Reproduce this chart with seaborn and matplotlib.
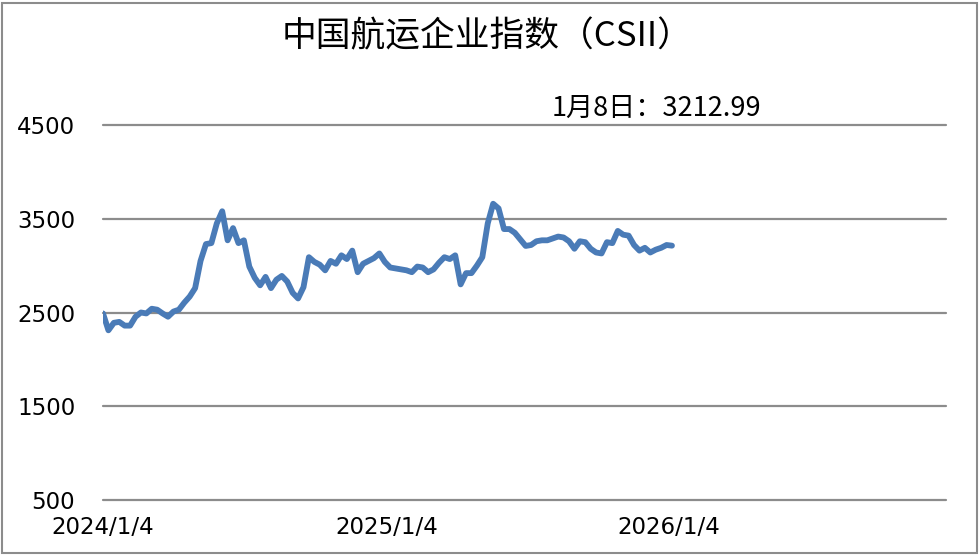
import pandas as pd
import numpy as np
import matplotlib
matplotlib.use("Agg")
import matplotlib.pyplot as plt
from matplotlib.patches import Rectangle
import seaborn as sns

# ---- data ----
start_date = "2024-01-04"
csii_values = [
    2490, 2310, 2390, 2400, 2360, 2360, 2455, 2500, 2490, 2540,
    2530, 2490, 2455, 2510, 2530, 2605, 2670, 2760, 3050, 3230,
    3240, 3450, 3580, 3270, 3400, 3240, 3270, 2990, 2870, 2790,
    2880, 2760, 2850, 2890, 2830, 2710, 2650, 2770, 3090, 3040,
    3010, 2950, 3050, 3020, 3110, 3070, 3160, 2930, 3020, 3050,
    3080, 3130, 3040, 2980, 2970, 2960, 2950, 2930, 2990, 2980,
    2930, 2960, 3030, 3090, 3070, 3110, 2800, 2920, 2920, 3000,
    3090, 3450, 3660, 3610, 3390, 3390, 3350, 3280, 3210, 3220,
    3260, 3270, 3270, 3290, 3310, 3300, 3260, 3180, 3260, 3250,
    3180, 3140, 3130, 3250, 3240, 3370, 3330, 3320, 3220, 3160,
    3190, 3140, 3170, 3190, 3220, 3212.99,
]
dates = pd.date_range(start_date, periods=len(csii_values), freq="7D")
x_tick_dates = ["2024-01-04", "2025-01-04", "2026-01-04"]
x_tick_labels = ["2024/1/4", "2025/1/4", "2026/1/4"]
y_ticks = [500, 1500, 2500, 3500, 4500]
title_text = "中国航运企业指数（CSII）"
note_text = "1月8日：3212.99"

df = pd.DataFrame({"date": dates, "value": csii_values})

sns.set_theme(style="white")
plt.rcParams["font.family"] = ["Noto Sans CJK SC", "DejaVu Sans"]

fig = plt.figure(figsize=(9.8, 5.55), dpi=100)
fig.patch.set_facecolor("white")
ax = fig.add_axes([103 / 980, 55 / 555, (946 - 103) / 980, (500 - 125) / 555])

sns.lineplot(data=df, x="date", y="value", ax=ax, color="#4a7bb7",
             linewidth=4.2, solid_joinstyle="round", solid_capstyle="round")

ax.set_ylim(500, 4500)
x0 = pd.Timestamp(start_date)
ax.set_xlim(x0, x0 + pd.Timedelta(days=1089))
ax.set_yticks(y_ticks)
ax.set_yticklabels([str(v) for v in y_ticks])
ax.set_xticks(pd.to_datetime(x_tick_dates))
ax.set_xticklabels(x_tick_labels)
ax.set_xlabel("")
ax.set_ylabel("")
for s in ax.spines.values():
    s.set_visible(False)
ax.grid(axis="y", color="#8c8c8c", linewidth=1.6)
ax.grid(axis="x", visible=False)
ax.set_axisbelow(True)
ax.tick_params(axis="y", length=0, pad=20, labelsize=16.5, labelcolor="black")
ax.tick_params(axis="x", length=0, pad=11.5, labelsize=16.5, labelcolor="black")
for lab in ax.get_xticklabels() + ax.get_yticklabels():
    lab.set_fontfamily(["DejaVu Sans"])
for gl in ax.yaxis.get_gridlines():
    gl.set_clip_on(False)

fig.text(487 / 980, 1 - 37 / 555, title_text, ha="center", va="center",
         fontsize=25, fontweight="medium", color="black",
         fontfamily=["Noto Sans CJK SC", "DejaVu Sans"])
fig.text(656 / 980, 1 - 108 / 555, note_text, ha="center", va="center",
         fontsize=19.5, color="black", fontfamily=["Noto Sans CJK SC", "DejaVu Sans"])

fig.patches.append(Rectangle((2 / 980, 2 / 555), 975 / 980, 550 / 555,
                             transform=fig.transFigure, fill=False,
                             edgecolor="#8c8c8c", linewidth=1.5))

fig.savefig("out.png", dpi=100)
